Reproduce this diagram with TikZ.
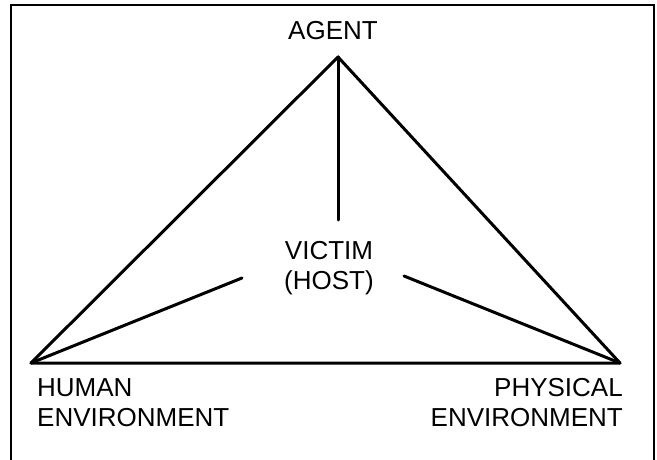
\documentclass[tikz,border=0pt]{standalone}
\usepackage{fontspec}
\setmainfont{Liberation Sans}
\begin{document}
\begin{tikzpicture}[x=1pt,y=-1pt,
  lbl/.style={inner sep=0pt,font=\fontsize{26}{30}\selectfont},
  edge/.style={line width=3pt,line cap=round,line join=round}]
\useasboundingbox (0,0) rectangle (657,460);
\fill[white] (0,0) rectangle (657,460);
\draw[line width=2.6pt] (11,475) -- (11,5) -- (654,5) -- (654,475);
% vertices
\coordinate (A) at (338,57);
\coordinate (H) at (31,363);
\coordinate (P) at (620,363);
\coordinate (Vt) at (338,220);
\coordinate (Vl) at (242,278);
\coordinate (Vr) at (404,276);
% labels
\node[lbl,anchor=base] (agent) at (333,40) {AGENT};
\node[lbl,anchor=north,align=center] (victim) at (329,241.4) {VICTIM\\(HOST)};
\node[lbl,anchor=north west,align=left] (human) at (37,378.4) {HUMAN\\ENVIRONMENT};
\node[lbl,anchor=north east,align=right] (phys) at (623,378.4) {PHYSICAL\\ENVIRONMENT};
% triangle
\draw[edge] (H) -- (A) -- (P) -- cycle;
\draw[edge] (A) -- (Vt);
\draw[edge] (H) -- (Vl);
\draw[edge] (Vr) -- (P);
\end{tikzpicture}
\end{document}
